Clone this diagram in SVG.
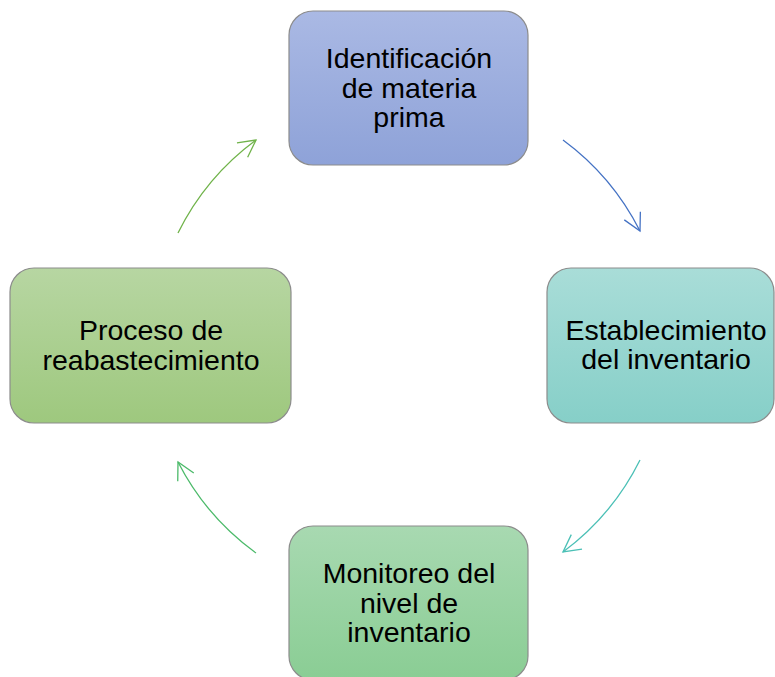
<svg xmlns="http://www.w3.org/2000/svg" width="775" height="677" viewBox="0 0 775 677">
<style>
.box{stroke:#8c8c8c;stroke-width:1.2}
.lbl{font-family:"Liberation Sans",Arial,sans-serif;font-size:28.5px;fill:#000;text-anchor:middle}
.con{fill:none;stroke-width:1.3}
</style>
<defs>
<linearGradient id="gBlue" x1="0" y1="0" x2="0" y2="1"><stop offset="0" stop-color="#aab9e4"/><stop offset="1" stop-color="#8ea2d8"/></linearGradient>
<linearGradient id="gTeal" x1="0" y1="0" x2="0" y2="1"><stop offset="0" stop-color="#a9ddd8"/><stop offset="1" stop-color="#86cfc8"/></linearGradient>
<linearGradient id="gMint" x1="0" y1="0" x2="0" y2="1"><stop offset="0" stop-color="#a8d9b1"/><stop offset="1" stop-color="#8acd94"/></linearGradient>
<linearGradient id="gGreen" x1="0" y1="0" x2="0" y2="1"><stop offset="0" stop-color="#b7d6a2"/><stop offset="1" stop-color="#9ec87e"/></linearGradient>
<marker id="aBlue" markerUnits="userSpaceOnUse" markerWidth="24" markerHeight="24" refX="20" refY="10" orient="auto" overflow="visible"><path d="M3,1 L20,10 L3,19" fill="none" stroke="#4472c4" stroke-width="1.3"/></marker>
<marker id="aTeal" markerUnits="userSpaceOnUse" markerWidth="24" markerHeight="24" refX="20" refY="10" orient="auto" overflow="visible"><path d="M3,1 L20,10 L3,19" fill="none" stroke="#4bc0b6" stroke-width="1.3"/></marker>
<marker id="aMint" markerUnits="userSpaceOnUse" markerWidth="24" markerHeight="24" refX="20" refY="10" orient="auto" overflow="visible"><path d="M3,1 L20,10 L3,19" fill="none" stroke="#4cba6a" stroke-width="1.3"/></marker>
<marker id="aGreen" markerUnits="userSpaceOnUse" markerWidth="24" markerHeight="24" refX="20" refY="10" orient="auto" overflow="visible"><path d="M3,1 L20,10 L3,19" fill="none" stroke="#70b34a" stroke-width="1.3"/></marker>
</defs>
<g id="connectors">
<path class="con" stroke="#4472c4" d="M563,140 A257,257 0 0 1 640,231" marker-end="url(#aBlue)"/>
<path class="con" stroke="#4bc0b6" d="M640,460 A257,257 0 0 1 563,552" marker-end="url(#aTeal)"/>
<path class="con" stroke="#4cba6a" d="M256,553 A257,257 0 0 1 178,462" marker-end="url(#aMint)"/>
<path class="con" stroke="#70b34a" d="M178,233 A257,257 0 0 1 256,140" marker-end="url(#aGreen)"/>
</g>
<g id="node-identificacion">
<rect class="box" x="289" y="11" width="239" height="154" rx="24" fill="url(#gBlue)"/>
<text class="lbl" x="409" y="68">Identificación</text>
<text class="lbl" x="409" y="98">de materia</text>
<text class="lbl" x="409" y="127">prima</text>
</g>
<g id="node-establecimiento">
<rect class="box" x="547" y="268" width="227" height="155" rx="24" fill="url(#gTeal)"/>
<text class="lbl" x="666" y="340">Establecimiento</text>
<text class="lbl" x="666" y="369">del inventario</text>
</g>
<g id="node-monitoreo">
<rect class="box" x="289" y="526" width="239" height="154" rx="24" fill="url(#gMint)"/>
<text class="lbl" x="409" y="583">Monitoreo del</text>
<text class="lbl" x="409" y="613">nivel de</text>
<text class="lbl" x="409" y="642">inventario</text>
</g>
<g id="node-reabastecimiento">
<rect class="box" x="10" y="268" width="281" height="155" rx="24" fill="url(#gGreen)"/>
<text class="lbl" x="151" y="340">Proceso de</text>
<text class="lbl" x="151" y="370">reabastecimiento</text>
</g>
</svg>
